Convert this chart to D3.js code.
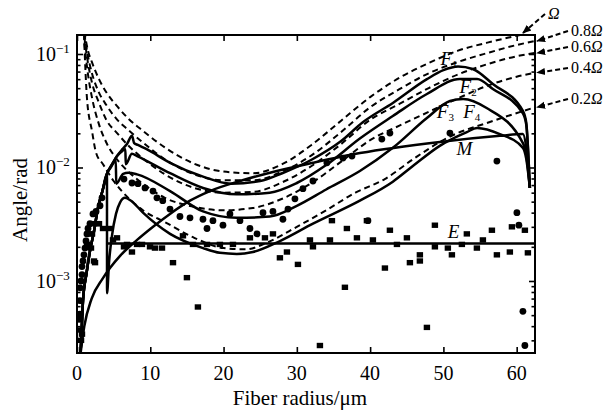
<!DOCTYPE html>
<html><head><meta charset="utf-8">
<script src="https://cdn.jsdelivr.net/npm/d3@7"></script>
<style>body{margin:0;background:#fff}svg{display:block}</style>
</head><body>
<svg id="c" width="614" height="416"></svg>
<script>
// ---------- data ----------
const xTicks = [0, 10, 20, 30, 40, 50, 60];
const yMajorTicks = [1e-3, 1e-2, 1e-1];
const yTickExp = ["\u22123", "\u22122", "\u22121"];

// dashed reference curves
const xOm = [1.0, 1.5, 2.0, 3.0, 4.0, 5.5, 7.0, 9.0, 12, 16, 20, 24, 28, 32, 36, 40, 44, 48, 52, 56, 60, 62.5];
const yOm10 = [0.158, 0.107, 0.086, 0.060, 0.0460, 0.0345, 0.0270, 0.0210, 0.0150, 0.0108, 0.0092, 0.0089, 0.0107, 0.0158, 0.0257, 0.0417, 0.0617, 0.0832, 0.107, 0.126, 0.145, 0.158];
const yOm08 = [0.151, 0.0955, 0.0692, 0.0457, 0.0355, 0.0263, 0.0214, 0.0166, 0.0118, 0.0087, 0.0077, 0.0077, 0.0092, 0.0128, 0.0204, 0.0339, 0.049, 0.0676, 0.0851, 0.102, 0.120, 0.130];
const yOm06 = [0.141, 0.0832, 0.0575, 0.0372, 0.0263, 0.020, 0.0156, 0.0120, 0.0087, 0.0066, 0.0060, 0.0061, 0.0074, 0.0103, 0.0160, 0.0263, 0.0363, 0.0501, 0.0661, 0.0813, 0.0955, 0.102];
const yOm04 = [0.126, 0.0661, 0.0427, 0.024, 0.0166, 0.0117, 0.0092, 0.0072, 0.0054, 0.0045, 0.0042, 0.0044, 0.0053, 0.0073, 0.0112, 0.0174, 0.0234, 0.0309, 0.0407, 0.0525, 0.0631, 0.0684];
const xOm02 = [0.95, 1.36, 2.05, 2.6, 3.55, 5, 7, 9, 12, 16, 20, 23, 26, 30, 34, 38, 42, 46, 50.5, 56.75, 62.5];
const yOm02 = [0.15, 0.0407, 0.0209, 0.0135, 0.0107, 0.0076, 0.0054, 0.0042, 0.0033, 0.0024, 0.00195, 0.0019, 0.00219, 0.0030, 0.0042, 0.0060, 0.0079, 0.0120, 0.0182, 0.0257, 0.0339];

// common rising branch of the F curves (r < 4 um)
const xEnv = [0.35, 0.55, 0.82, 1.3, 1.77, 2.3, 2.86, 3.5, 4.09];
const yEnv = [0.00018, 0.00028, 0.00067, 0.00117, 0.00184, 0.0027, 0.0044, 0.0063, 0.0088];

const xF1 = [4.8, 5.46, 6.2, 6.82, 7.5, 7.8, 8.3, 9.5, 12.7, 17.2, 21, 25, 28, 32, 36, 39, 43.1, 47.75, 50, 52, 54, 56.75, 60.85, 61.3, 61.8];
const yF1 = [0.0107, 0.0126, 0.0145, 0.0161, 0.019, 0.0164, 0.0158, 0.0145, 0.011, 0.0083, 0.0072, 0.0076, 0.0089, 0.0117, 0.017, 0.025, 0.037, 0.060, 0.072, 0.0776, 0.0738, 0.0544, 0.0315, 0.025, 0.0066];
const xF2 = [4.8, 5.46, 6.2, 6.6, 6.65, 7.5, 8.2, 12.7, 17.2, 21.8, 26.3, 30, 34, 38.6, 43.1, 47.75, 52.25, 54.6, 56.75, 60.85, 61.3, 61.8];
const yF2 = [0.0107, 0.0126, 0.0140, 0.0145, 0.0107, 0.0132, 0.0126, 0.0089, 0.0066, 0.0058, 0.006, 0.0073, 0.0105, 0.018, 0.0284, 0.0444, 0.0603, 0.0603, 0.0492, 0.030, 0.024, 0.0066];
const xF3 = [4.6, 5.3, 5.35, 6.3, 7.0, 8.2, 12.7, 17.2, 21.8, 26.3, 30, 34, 38.6, 43.1, 47.75, 50.9, 52.7, 55.9, 60.85, 61.3, 61.8];
const yF3 = [0.0100, 0.0115, 0.0072, 0.0088, 0.0090, 0.0087, 0.0062, 0.0041, 0.0036, 0.0037, 0.0046, 0.0064, 0.0093, 0.0149, 0.0273, 0.0385, 0.0401, 0.0334, 0.0164, 0.013, 0.0066];
const xF4 = [4.1, 4.37, 4.77, 5.32, 5.87, 6.55, 7.37, 9.0, 12.7, 17.2, 19.5, 21.8, 24, 27.7, 32.2, 38.6, 43.1, 46, 49.5, 53.2, 54.6, 57.7, 60.85, 61.3, 61.8];
const yF4 = [0.00078, 0.00145, 0.0025, 0.0039, 0.0049, 0.0054, 0.0051, 0.0040, 0.0026, 0.00195, 0.00177, 0.00173, 0.0018, 0.00225, 0.0032, 0.0051, 0.0075, 0.0105, 0.0155, 0.0205, 0.0223, 0.0197, 0.0149, 0.012, 0.0066];
const xM = [0.45, 1.0, 2.0, 3.5, 4.5, 6, 8.2, 10.64, 12.69, 15.42, 18.14, 22.24, 26.33, 32.2, 38.61, 49.52, 57.71, 60.85, 61.3, 61.8];
const yM = [0.00022, 0.0004, 0.0007, 0.00105, 0.0013, 0.0017, 0.0023, 0.0031, 0.0039, 0.0051, 0.0062, 0.0076, 0.0090, 0.011, 0.0134, 0.0168, 0.019, 0.0197, 0.015, 0.0066];
const xE = [4.09, 62.5];
const yE = [0.00214, 0.00214];

// measured points: circles
const xCirc = [0.27, 0.41, 0.41, 0.41, 0.55, 0.68, 0.68, 0.82, 0.95, 1.09, 1.23, 1.36, 1.5, 1.77, 2.18, 2.6, 3.14, 3.41,
  6.41, 7.5, 8.32, 9.28, 10.37, 10.91, 11.7, 12.69, 14.05, 15.42, 17.19, 17.74, 18.55, 19.92, 20.87, 22.24, 23.6, 24.56,
  25.38, 26.74, 28.1, 28.79, 29.74, 30.83, 32.2, 34.1, 36.29, 37.52, 39.7, 41.6, 42.7, 50.89, 57.3, 60.03, 60.3, 60.85, 61.12];
const yCirc = [0.00046, 0.00051, 0.00067, 0.00087, 0.0010, 0.00114, 0.00134, 0.0015, 0.0017, 0.00195, 0.00225, 0.0026, 0.0029, 0.0032, 0.0039, 0.0041, 0.0046, 0.0054,
  0.0079, 0.0073, 0.0072, 0.0066, 0.0062, 0.0054, 0.0051, 0.0043, 0.0037, 0.0036, 0.0035, 0.0029, 0.0034, 0.0031, 0.0039, 0.0034, 0.0029, 0.0026,
  0.0040, 0.0041, 0.0035, 0.0043, 0.0053, 0.0065, 0.0076, 0.011, 0.0121, 0.0126, 0.0034, 0.0178, 0.0201, 0.0201, 0.0114, 0.0040, 0.0031, 0.00054, 0.00027];
// measured points: squares
const xSq = [0.41, 0.68, 0.55, 1.36, 1.64, 1.91, 2.05, 2.32, 2.73, 3.0, 2.32, 2.46, 3.55, 4.5, 4.91, 5.46, 6.41, 6.82, 7.5, 8.19, 8.87, 9.96,
  10.64, 11.6, 13.1, 14.46, 15.0, 15.83, 16.5, 17.74, 19.5, 21.28, 23.6, 25.65, 26.74, 27.69, 28.65, 30.15, 31.79, 32.2, 33.15, 34.52,
  34.79, 36.56, 36.83, 38.2, 39.56, 40.38, 42.02, 42.7, 43.66, 45.02, 45.43, 46.79, 46.79, 47.75, 48.84, 48.84, 50.61, 51.16, 52.52,
  53.2, 54.57, 55.39, 56.62, 57.3, 59.07, 59.35, 61.12, 61.53];
const ySq = [0.00037, 0.00034, 0.0003, 0.0021, 0.0026, 0.00195, 0.0026, 0.0032, 0.0032, 0.0032, 0.0015, 0.00145, 0.0029, 0.0029, 0.0023, 0.0024, 0.002, 0.0021, 0.0018, 0.0021, 0.0021, 0.002,
  0.00195, 0.00195, 0.00145, 0.0025, 0.00107, 0.0021, 0.00059, 0.0021, 0.0021, 0.0021, 0.0024, 0.0024, 0.0026, 0.0016, 0.0018, 0.0014, 0.0023, 0.002, 0.00027, 0.0023,
  0.0034, 0.00088, 0.0029, 0.0024, 0.0034, 0.0023, 0.0013, 0.0028, 0.0021, 0.0024, 0.00145, 0.0017, 0.0015, 0.00039, 0.0031, 0.002, 0.00195, 0.0017, 0.0021,
  0.0026, 0.00195, 0.0023, 0.0028, 0.0017, 0.0018, 0.003, 0.0028, 0.00177];

// curve labels (anchored in data coordinates)
const curveLabels = [
  {name: "F", sub: "1", x: 49.6, y: 0.0800},
  {name: "F", sub: "2", x: 52.2, y: 0.0453},
  {name: "F", sub: "3", x: 49.1, y: 0.0273},
  {name: "F", sub: "4", x: 52.7, y: 0.0273},
  {name: "M", sub: "", x: 51.8, y: 0.0129},
  {name: "E", sub: "", x: 50.6, y: 0.00239}
];
const omegaLabels = ["", "0.8", "0.6", "0.4", "0.2"];

// ---------- drawing ----------
const svg = d3.select("#c");
const L = 77, R = 535, T = 35, B = 353;
const x = d3.scaleLinear([0, 62.5], [L, R]);
const y = d3.scaleLog([2.32e-4, 0.147], [B, T]);
const FONT = "'Liberation Serif', 'Times New Roman', serif";

const defs = svg.append("defs");
defs.append("clipPath").attr("id", "clip")
  .append("rect").attr("x", L).attr("y", T).attr("width", R - L).attr("height", B - T);
defs.append("marker").attr("id", "arr").attr("viewBox", "0 0 10 10")
  .attr("refX", 9).attr("refY", 5).attr("markerWidth", 9).attr("markerHeight", 9)
  .attr("markerUnits", "userSpaceOnUse").attr("orient", "auto")
  .append("path").attr("d", "M0,1 L10,5 L0,9 z").attr("fill", "#000");

const zip = (xs, ys) => xs.map((v, i) => [v, ys[i]]);
const line = d3.line().x(d => x(d[0])).y(d => y(d[1])).curve(d3.curveMonotoneX);

const plot = svg.append("g").attr("clip-path", "url(#clip)");

// dashed curves
const dashed = [zip(xOm, yOm10), zip(xOm, yOm08), zip(xOm, yOm06), zip(xOm, yOm04), zip(xOm02, yOm02)];
dashed.forEach(d => plot.append("path").attr("d", line(d)).attr("fill", "none")
  .attr("stroke", "#000").attr("stroke-width", 2).attr("stroke-dasharray", "6,4"));

// solid curves
const env = zip(xEnv, yEnv);
const solids = [
  env.concat(zip(xF1, yF1)),
  env.concat(zip(xF2, yF2)),
  env.concat(zip(xF3, yF3)),
  env.concat(zip(xF4, yF4)),
  zip(xM, yM),
  zip(xE, yE)
];
solids.forEach(d => plot.append("path").attr("d", line(d)).attr("fill", "none")
  .attr("stroke", "#000").attr("stroke-width", 2.5).attr("stroke-linejoin", "round"));

// points
plot.selectAll("circle.pt").data(zip(xCirc, yCirc)).join("circle")
  .attr("cx", d => x(d[0])).attr("cy", d => y(d[1])).attr("r", 3.4).attr("fill", "#000");
plot.selectAll("rect.pt").data(zip(xSq, ySq)).join("rect")
  .attr("x", d => x(d[0]) - 3.2).attr("y", d => y(d[1]) - 2.7).attr("width", 6.4).attr("height", 5.4).attr("fill", "#000");

// axes (ticks inside)
const minor = y.ticks().filter(v => !yMajorTicks.some(m => Math.abs(m - v) / m < 1e-6));
const ax = svg.append("g");
ax.append("g").attr("transform", `translate(0,${B})`).call(d3.axisBottom(x).tickValues(xTicks).tickSize(-6).tickFormat(""));
ax.append("g").attr("transform", `translate(0,${T})`).call(d3.axisTop(x).tickValues(xTicks).tickSize(-6).tickFormat(""));
ax.append("g").attr("transform", `translate(${L},0)`).call(d3.axisLeft(y).tickValues(yMajorTicks).tickSize(-6).tickFormat(""));
ax.append("g").attr("transform", `translate(${L},0)`).call(d3.axisLeft(y).tickValues(minor).tickSize(-3.5).tickFormat(""));
ax.append("g").attr("transform", `translate(${R},0)`).call(d3.axisRight(y).tickValues(yMajorTicks).tickSize(-6).tickFormat(""));
ax.append("g").attr("transform", `translate(${R},0)`).call(d3.axisRight(y).tickValues(minor).tickSize(-3.5).tickFormat(""));
ax.selectAll(".domain").remove();
ax.selectAll("line").attr("stroke", "#000").attr("stroke-width", 1.6);
svg.append("rect").attr("x", L).attr("y", T).attr("width", R - L).attr("height", B - T)
  .attr("fill", "none").attr("stroke", "#000").attr("stroke-width", 2);

// tick labels
svg.append("g").selectAll("text").data(xTicks).join("text")
  .attr("x", d => x(d)).attr("y", 380).attr("text-anchor", "middle")
  .attr("font-family", FONT).attr("font-size", 20).text(d => d);
const yl = svg.append("g").selectAll("text").data(yMajorTicks).join("text")
  .attr("x", 36).attr("y", d => y(d) + 7)
  .attr("font-family", FONT).attr("font-size", 20);
yl.append("tspan").text("10");
yl.append("tspan").attr("dy", -8).attr("font-size", 13).text((d, i) => yTickExp[i]);

// axis titles
svg.append("text").attr("x", 300).attr("y", 405).attr("text-anchor", "middle")
  .attr("font-family", FONT).attr("font-size", 21).text("Fiber radius/\u03bcm");
svg.append("text").attr("transform", `translate(27,${(T + B) / 2 + 6}) rotate(-90)`).attr("text-anchor", "middle")
  .attr("font-family", FONT).attr("font-size", 21).text("Angle/rad");

// curve labels
const cl = svg.append("g").selectAll("text").data(curveLabels).join("text")
  .attr("x", d => x(d.x)).attr("y", d => y(d.y))
  .attr("font-family", FONT).attr("font-size", 19);
cl.append("tspan").attr("font-style", "italic").text(d => d.name);
cl.append("tspan").attr("dy", 3).attr("font-size", 11).text(d => d.sub);

// omega labels with dashed leaders
const ends = [
  [60.85, y.domain()[1]],
  [62.5, yOm08[yOm08.length - 1]],
  [62.5, yOm06[yOm06.length - 1]],
  [62.5, yOm04[yOm04.length - 1]],
  [62.5, yOm02[yOm02.length - 1]]
];
const labPos = [[548, 19], [571, 36], [571, 52], [571, 73], [571, 104]];
ends.forEach((e, i) => {
  const tx = x(e[0]) + (i === 0 ? 0 : 2), ty = y(e[1]) - (i === 0 ? 2 : 0);
  const sx = labPos[i][0] - 3, sy = labPos[i][1] - 5;
  svg.append("line").attr("x1", sx).attr("y1", sy).attr("x2", tx).attr("y2", ty)
    .attr("stroke", "#000").attr("stroke-width", 2).attr("stroke-dasharray", "5,3")
    .attr("marker-end", "url(#arr)");
  const t = svg.append("text").attr("x", labPos[i][0]).attr("y", labPos[i][1])
    .attr("font-family", FONT).attr("font-size", 16);
  t.append("tspan").text(omegaLabels[i]);
  t.append("tspan").attr("font-style", "italic").text("\u03a9");
});
</script>
</body></html>
